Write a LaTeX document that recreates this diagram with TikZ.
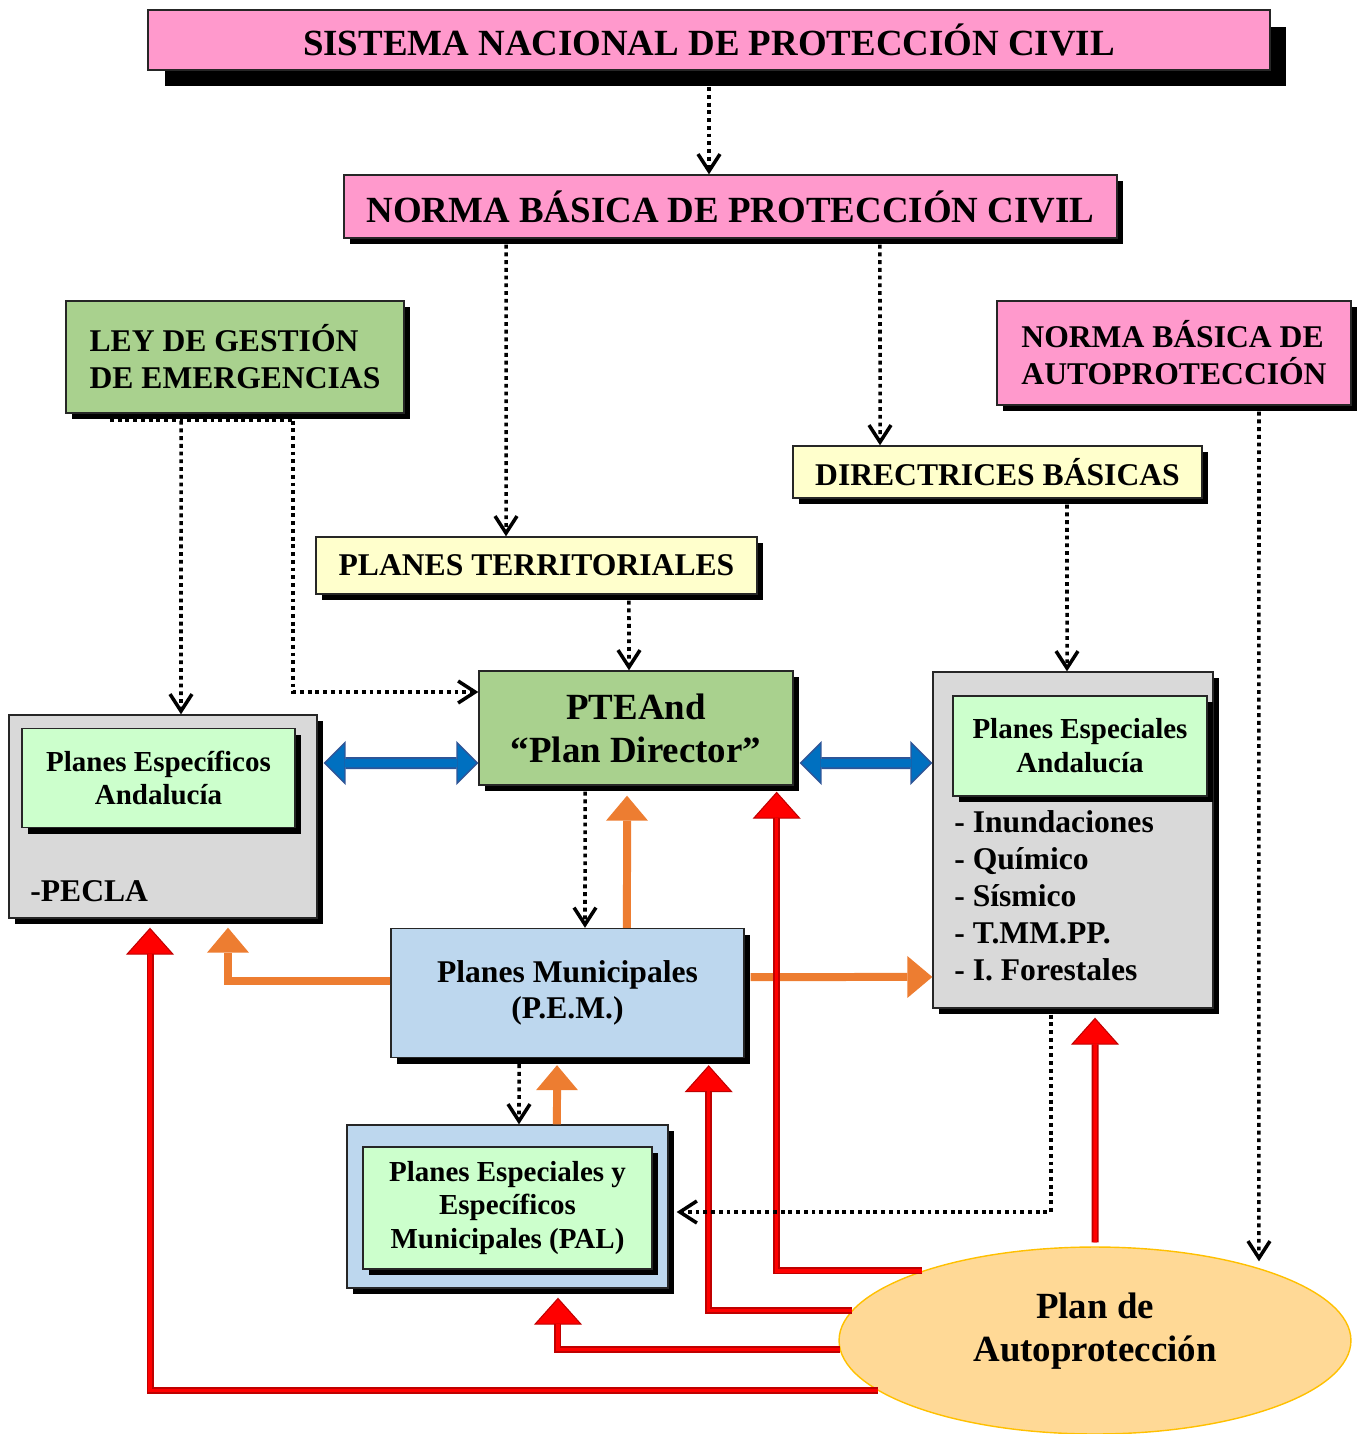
\documentclass[tikz,border=0pt]{standalone}
\usepackage{fontspec}
\setmainfont{Liberation Serif}
\usetikzlibrary{arrows.meta,shapes.geometric,shadows}

\definecolor{rosa}{HTML}{FF99CC}
\definecolor{verde}{HTML}{A9D18E}
\definecolor{amarillo}{HTML}{FFFFCC}
\definecolor{gris}{HTML}{D9D9D9}
\definecolor{menta}{HTML}{CCFFCC}
\definecolor{celeste}{HTML}{BDD7EE}
\definecolor{naranja}{HTML}{ED7D31}
\definecolor{rojo}{HTML}{FF0000}
\definecolor{rojoborde}{HTML}{C00000}
\definecolor{azul}{HTML}{0070C0}
\definecolor{azulborde}{HTML}{2F5597}
\definecolor{crema}{HTML}{FFD996}
\definecolor{oro}{HTML}{FFC000}

\tikzset{
  box/.style={draw=black!85, line width=0.8pt, inner sep=0pt, align=center,
    drop shadow={shadow xshift=#1, shadow yshift=-#1, fill=black, opacity=1}},
  box/.default=0.12cm,
  dotline/.style={line width=2pt, dash pattern=on 2.2pt off 2.2pt},
  dotarrow/.style={dotline, -{Straight Barb[length=0.34cm, width=0.44cm]}},
  bluearrow/.style={line width=0.24cm, draw=azulborde,
    {Triangle[length=0.44cm, width=0.88cm, fill=azul, color=azulborde, line width=0.8pt]}-{Triangle[length=0.44cm, width=0.88cm, fill=azul, color=azulborde, line width=0.8pt]},
    postaction={draw=azul, line width=0.17cm, -, shorten <=0.42cm, shorten >=0.42cm}},
  orangearrow/.style={line width=0.16cm, draw=naranja,
    -{Triangle[length=0.5cm, width=0.84cm, fill=naranja, color=naranja, line width=0pt]}},
  redarrow/.style={line width=0.14cm, draw=rojoborde,
    -{Triangle[length=0.54cm, width=0.96cm, fill=rojo, color=rojoborde, line width=0.6pt]},
    postaction={draw=rojo, line width=0.07cm, -, shorten >=0.52cm}}
}

\begin{document}
\begin{tikzpicture}[x=0.02cm, y=-0.02cm]
	
	% 画布大小
	\useasboundingbox (0,0) rectangle (1360,1434);
	
	% 上方的标题框
	\node[box=0.33cm, fill=rosa, minimum width=22.44cm, minimum height=1.2cm,
	font=\fontsize{21}{25}\selectfont\bfseries] (sistema) at (709,40) {SISTEMA NACIONAL DE PROTECCIÓN CIVIL};
	\node[box, fill=rosa, minimum width=15.46cm, minimum height=1.26cm,
	font=\fontsize{21}{25}\selectfont\bfseries] (norma) at (730.5,206.5) {NORMA BÁSICA DE PROTECCIÓN CIVIL};
	\node[box, fill=verde, minimum width=6.76cm, minimum height=2.24cm, align=left,
	font=\fontsize{18}{21}\selectfont\bfseries] (ley) at (235,357) {LEY DE GESTIÓN\\DE EMERGENCIAS};
	\node[box, fill=rosa, minimum width=7.08cm, minimum height=2.08cm, align=left,
	font=\fontsize{18}{21}\selectfont\bfseries] (autop) at (1174,353) {NORMA BÁSICA DE\\AUTOPROTECCIÓN};
	\node[box, fill=amarillo, minimum width=8.18cm, minimum height=1.04cm,
	font=\fontsize{18}{21}\selectfont\bfseries] (direct) at (997.5,472) {DIRECTRICES BÁSICAS};
	\node[box, fill=amarillo, minimum width=8.82cm, minimum height=1.14cm,
	font=\fontsize{18}{21}\selectfont\bfseries] (territ) at (536.5,565.5) {PLANES TERRITORIALES};
	
	% 中间的方框
	\node[box, fill=verde, minimum width=6.28cm, minimum height=2.28cm,
	font=\fontsize{21}{24.5}\selectfont\bfseries] (ptea) at (636,728) {PTEAnd\\“Plan Director”};
	
	\node[box, fill=gris, minimum width=6.16cm, minimum height=4.06cm] (specl) at (163,816.5) {};
	\node[box, fill=menta, minimum width=5.46cm, minimum height=1.98cm,
	font=\fontsize{16.5}{19}\selectfont\bfseries] (speclin) at (158.5,778) {Planes Específicos\\Andalucía};
	\node[anchor=west, inner sep=0pt, font=\fontsize{18}{21}\selectfont\bfseries] (pecla) at (30,891) {-PECLA};
	
	\node[box, fill=gris, minimum width=5.6cm, minimum height=6.72cm] (esper) at (1073,840) {};
	\node[box, fill=menta, minimum width=5.08cm, minimum height=2cm,
	font=\fontsize{16.5}{19.3}\selectfont\bfseries] (esperin) at (1080,746) {Planes Especiales\\Andalucía};
	\node[anchor=west, align=left, inner sep=0pt, font=\fontsize{18}{21}\selectfont\bfseries] (lista) at (954,896)
	{- Inundaciones\\- Químico\\- Sísmico\\- T.MM.PP.\\- I. Forestales};
	
	\node[box, fill=celeste, minimum width=7.06cm, minimum height=2.58cm,
	font=\fontsize{18}{20.5}\selectfont\bfseries] (pem) at (567.5,993) {Planes Municipales\\(P.E.M.)};
	
	\node[box, fill=celeste, minimum width=6.42cm, minimum height=3.26cm] (pal) at (507.5,1206.5) {};
	\node[box, fill=menta, minimum width=5.78cm, minimum height=2.44cm,
	font=\fontsize{16.5}{19.3}\selectfont\bfseries] (palin) at (507.5,1208) {Planes Especiales y\\Específicos\\Municipales (PAL)};
	
	% 蓝色双向箭头
	\draw[bluearrow] ([xshift=0.12cm,yshift=1.07cm]specl.east) -- ([yshift=-0.7cm]ptea.west);
	\draw[bluearrow] ([xshift=0.12cm,yshift=-0.7cm]ptea.east) -- ([yshift=1.54cm]esper.west);
	
	% 橙色箭头
	\draw[orangearrow] ([xshift=1.19cm]pem.north) -- ([xshift=-0.18cm,yshift=-0.2cm]ptea.south);
	\draw[orangearrow] ([yshift=0.24cm]pem.west) -| ([xshift=1.3cm,yshift=-0.18cm]specl.south);
	\draw[orangearrow] ([xshift=0.12cm,yshift=0.32cm]pem.east) -- ([yshift=-2.74cm]esper.west);
	\draw[orangearrow] ([xshift=0.99cm]pal.north) -- ([xshift=-0.21cm,yshift=-0.14cm]pem.south);
	
	% 自我保护计划
	\node[ellipse, draw=oro, line width=0.8pt, fill=crema, inner sep=0pt,
	minimum width=10.24cm, minimum height=3.74cm] (ell) at (1095,1340.5) {};
	\node[align=center, font=\fontsize{21}{24.5}\selectfont\bfseries] (plantxt) at (1095,1331) {Plan de\\Autoprotección};
	
	% 红色箭头
	\draw[redarrow] (ell.158) -| ([xshift=-0.34cm,yshift=-0.12cm]ptea.south east);
	\draw[redarrow] (ell.173) -| ([xshift=-0.72cm,yshift=-0.14cm]pem.south east);
	\draw[redarrow] (ell.182) -| ([xshift=1.01cm,yshift=-0.18cm]pal.south);
	\draw[redarrow] (ell.193) -| ([xshift=-0.26cm,yshift=-0.18cm]specl.south);
	\draw[redarrow] ([yshift=0.08cm]ell.north) -- ([xshift=0.44cm,yshift=-0.18cm]esper.south);
	
	% 虚线箭头
	\draw[dotarrow] ([yshift=-0.33cm]sistema.south) -- (sistema.south |- norma.north);
	\draw[dotarrow] ([xshift=-4.49cm,yshift=-0.12cm]norma.south) -- ([xshift=-0.61cm]territ.north);
	\draw[dotarrow] ([xshift=2.99cm,yshift=-0.12cm]norma.south) -- ([xshift=-2.35cm]direct.north);
	\draw[dotline] ([xshift=-2.5cm,yshift=-0.14cm]ley.south) -- ([xshift=1.16cm,yshift=-0.14cm]ley.south);
	\draw[dotarrow] ([xshift=-1.08cm,yshift=-0.14cm]ley.south) -- ([xshift=0.36cm]specl.north);
	\draw[dotarrow] ([xshift=1.16cm,yshift=-0.14cm]ley.south) |- ([yshift=0.72cm]ptea.west);
	\draw[dotarrow] ([xshift=1.85cm,yshift=-0.12cm]territ.south) -- ([xshift=-0.14cm]ptea.north);
	\draw[dotarrow] ([xshift=1.39cm,yshift=-0.12cm]direct.south) -- ([xshift=-0.12cm]esper.north);
	\draw[dotarrow] ([xshift=-1.02cm,yshift=-0.12cm]ptea.south) -- ([xshift=0.35cm]pem.north);
	\draw[dotarrow] ([xshift=-0.97cm,yshift=-0.12cm]pem.south) -- ([xshift=0.23cm]pal.north);
	\draw[dotarrow] ([xshift=-0.44cm,yshift=-0.12cm]esper.south) |- ([xshift=0.16cm,yshift=-0.11cm]pal.east);
	\draw[dotarrow] ([xshift=1.7cm,yshift=-0.12cm]autop.south) -- ([xshift=3.28cm,yshift=-0.3cm]ell.north);
	
\end{tikzpicture}
\end{document}
